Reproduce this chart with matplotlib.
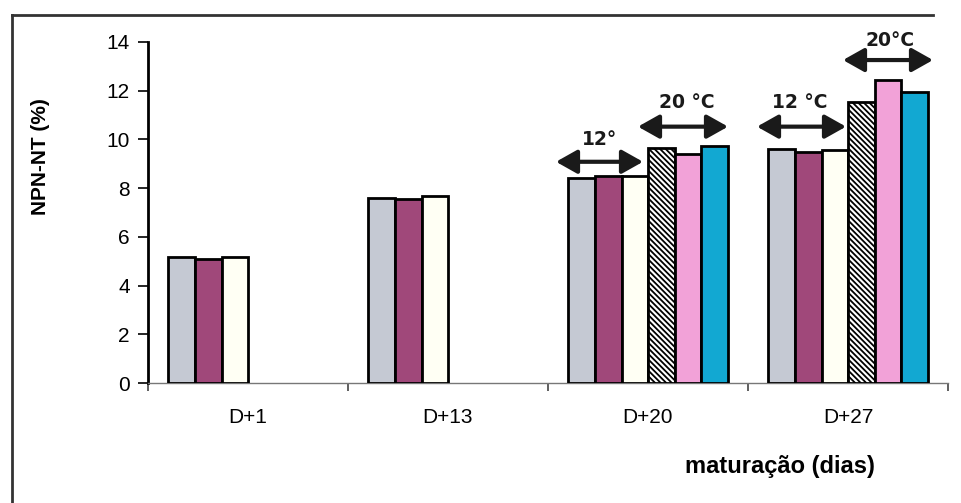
import matplotlib
matplotlib.use("Agg")
import matplotlib.pyplot as plt
from matplotlib.lines import Line2D
import numpy as np

# dados (NPN-NT %)
categorias = ["D+1", "D+13", "D+20", "D+27"]
serie1 = [5.17, 7.58, 8.42, 9.62]
serie2 = [5.08, 7.56, 8.48, 9.47]
serie3 = [5.17, 7.66, 8.50, 9.56]
serie4 = [np.nan, np.nan, 9.64, 11.55]
serie5 = [np.nan, np.nan, 9.41, 12.44]
serie6 = [np.nan, np.nan, 9.72, 11.96]

series = [serie1, serie2, serie3, serie4, serie5, serie6]
cores = ["#c5c9d3", "#a0487a", "#fffff4", "white", "#f2a2d8", "#12a8d2"]
hachuras = [None, None, None, "\\\\\\\\\\\\", None, None]

plt.rcParams["font.family"] = ["Liberation Sans", "DejaVu Sans"]
plt.rcParams["hatch.linewidth"] = 1.3

fig = plt.figure(figsize=(9.62, 5.03), dpi=100)
ax = fig.add_axes([148 / 962, 0.238, 800 / 962, 0.679])

x = np.arange(len(categorias))
larg = 0.133
inicio = -0.398
for k, (vals, cor, hch) in enumerate(zip(series, cores, hachuras)):
    ax.bar(x + inicio + k * larg, vals, width=larg, align="edge",
           color=cor, edgecolor="black", linewidth=2, hatch=hch, zorder=3)

ax.set_xlim(-0.5, 3.5)
ax.set_ylim(0, 14)
ax.set_yticks(range(0, 15, 2))
ax.tick_params(axis="y", labelsize=15, length=7, width=1.2, direction="out", pad=6)
ax.set_xticks(x)
ax.set_xticklabels(categorias, fontsize=15)
ax.tick_params(axis="x", which="major", length=0, pad=18)
ax.set_xticks(np.arange(-0.5, 4, 1), minor=True)
ax.tick_params(axis="x", which="minor", length=6, width=1.2, color="#444444")

for s in ["top", "right"]:
    ax.spines[s].set_visible(False)
ax.spines["left"].set_linewidth(2)
ax.spines["bottom"].set_linewidth(1)
ax.spines["bottom"].set_color("#777777")

# setas de temperatura
def seta(x0, x1, y, texto, xt, yt):
    ax.annotate("", xy=(x0, y), xytext=(x1, y),
                arrowprops=dict(arrowstyle="<|-|>,head_length=0.8,head_width=0.45",
                                color="#1a1a1a", lw=3, mutation_scale=16,
                                shrinkA=0, shrinkB=0),
                annotation_clip=False)
    ax.text(xt, yt, texto, ha="center", va="center", fontsize=13.5,
            fontweight="bold", family="DejaVu Sans", color="#1a1a1a")

seta(x[2] - 0.46, x[2] - 0.025, 9.08, "12°", x[2] - 0.24, 10.0)
seta(x[2] - 0.05, x[2] + 0.40, 10.52, "20 °C", x[2] + 0.195, 11.5)
seta(x[3] - 0.455, x[3] - 0.01, 10.52, "12 °C", x[3] - 0.24, 11.5)
seta(x[3] - 0.025, x[3] + 0.425, 13.25, "20°C", x[3] + 0.21, 14.05)

fig.text(40 / 962, 0.688, "NPN-NT (%)", rotation=90, ha="center", va="center",
         fontsize=15, fontweight="bold")
fig.text(0.811, 0.072, "maturação (dias)", ha="center", va="center",
         fontsize=17, fontweight="bold")

# moldura (esquerda e topo)
fig.add_artist(Line2D([12 / 962, 12 / 962], [0, 1 - 15 / 503], color="#333333", lw=2))
fig.add_artist(Line2D([12 / 962, 933 / 962], [1 - 15 / 503, 1 - 15 / 503], color="#333333", lw=2))

fig.savefig("out.png", dpi=100)
